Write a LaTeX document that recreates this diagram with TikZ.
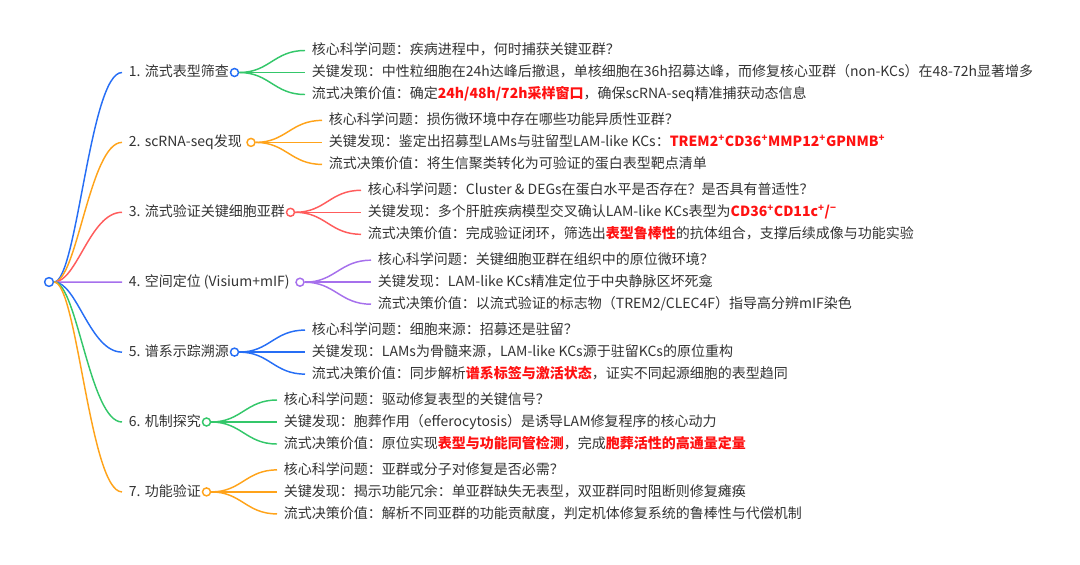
\documentclass[tikz,border=0pt]{standalone}
\usepackage{fontspec}
\setmainfont{Noto Sans CJK SC}
\definecolor{mblue}{RGB}{38,110,245}
\definecolor{morange}{RGB}{255,163,26}
\definecolor{mred}{RGB}{255,92,92}
\definecolor{mpurple}{RGB}{166,112,236}
\definecolor{mgreen}{RGB}{52,199,106}
\definecolor{txt}{RGB}{51,51,51}
\definecolor{hot}{RGB}{255,17,17}
\newcommand{\hl}[1]{\textcolor{hot}{\bfseries #1}}
\newcommand{\pos}{\textsuperscript{+}}
\begin{document}
\begin{tikzpicture}[x=0.75pt,y=-0.75pt,
  topic/.style={anchor=west,inner xsep=5pt,inner ysep=1pt,text=txt,
    font=\fontsize{10.5}{13}\selectfont,text height=0.83em,text depth=0.17em},
  dot/.style={circle,draw,fill=white,line width=1.1pt,minimum size=6pt,inner sep=0pt},
  link/.style={line width=1.1pt}]
  \useasboundingbox (0,0) rectangle (1080,564);
  \node[dot,draw=mblue,minimum size=6.6pt] (root) at (49,282) {};
  % 1
  \node[topic] (b1) at (122,72.5) {1. 流式表型筛查};
  \node[dot,draw=mblue] (c1) at (234.5,72.5) {};
  \node[topic] (l11) at (305,50.5) {核心科学问题：疾病进程中，何时捕获关键亚群？};
  \node[topic] (l12) at (305,72.5) {关键发现：中性粒细胞在24h达峰后撤退，单核细胞在36h招募达峰，而修复核心亚群（non-KCs）在48-72h显著增多};
  \node[topic] (l13) at (305,94.5) {流式决策价值：确定\hl{24h/48h/72h采样窗口}，确保scRNA-seq精准捕获动态信息};
  % 2
  \node[topic] (b2) at (122,142.4) {2. scRNA-seq发现};
  \node[dot,draw=morange] (c2) at (251,142.4) {};
  \node[topic] (l21) at (322,120.4) {核心科学问题：损伤微环境中存在哪些功能异质性亚群？};
  \node[topic] (l22) at (322,142.4) {关键发现：鉴定出招募型LAMs与驻留型LAM-like KCs：\hl{TREM2\pos CD36\pos MMP12\pos GPNMB\pos}};
  \node[topic] (l23) at (322,164.4) {流式决策价值：将生信聚类转化为可验证的蛋白表型靶点清单};
  % 3
  \node[topic] (b3) at (122,212.3) {3. 流式验证关键细胞亚群};
  \node[dot,draw=mred] (c3) at (290.5,212.3) {};
  \node[topic] (l31) at (361,190.3) {核心科学问题：Cluster \& DEGs在蛋白水平是否存在？是否具有普适性？};
  \node[topic] (l32) at (361,212.3) {关键发现：多个肝脏疾病模型交叉确认LAM-like KCs表型为\hl{CD36\pos CD11c\pos/\textsuperscript{−}}};
  \node[topic] (l33) at (361,234.3) {流式决策价值：完成验证闭环，筛选出\hl{表型鲁棒性}的抗体组合，支撑后续成像与功能实验};
  % 4
  \node[topic] (b4) at (122,282.2) {4. 空间定位 (Visium+mIF)};
  \node[dot,draw=mpurple] (c4) at (300,282.2) {};
  \node[topic] (l41) at (371,260.2) {核心科学问题：关键细胞亚群在组织中的原位微环境？};
  \node[topic] (l42) at (371,282.2) {关键发现：LAM-like KCs精准定位于中央静脉区坏死龛};
  \node[topic] (l43) at (371,304.2) {流式决策价值：以流式验证的标志物（TREM2/CLEC4F）指导高分辨mIF染色};
  % 5
  \node[topic] (b5) at (122,352.1) {5. 谱系示踪溯源};
  \node[dot,draw=mblue] (c5) at (234.5,352.1) {};
  \node[topic] (l51) at (305,330.1) {核心科学问题：细胞来源：招募还是驻留？};
  \node[topic] (l52) at (305,352.1) {关键发现：LAMs为骨髓来源，LAM-like KCs源于驻留KCs的原位重构};
  \node[topic] (l53) at (305,374.1) {流式决策价值：同步解析\hl{谱系标签与激活状态}，证实不同起源细胞的表型趋同};
  % 6
  \node[topic] (b6) at (122,422) {6. 机制探究};
  \node[dot,draw=mgreen] (c6) at (206.5,422) {};
  \node[topic] (l61) at (277,400) {核心科学问题：驱动修复表型的关键信号？};
  \node[topic] (l62) at (277,422) {关键发现：胞葬作用（efferocytosis）是诱导LAM修复程序的核心动力};
  \node[topic] (l63) at (277,444) {流式决策价值：原位实现\hl{表型与功能同管检测}，完成\hl{胞葬活性的高通量定量}};
  % 7
  \node[topic] (b7) at (122,491.9) {7. 功能验证};
  \node[dot,draw=morange] (c7) at (206.5,491.9) {};
  \node[topic] (l71) at (277,469.9) {核心科学问题：亚群或分子对修复是否必需？};
  \node[topic] (l72) at (277,491.9) {关键发现：揭示功能冗余：单亚群缺失无表型，双亚群同时阻断则修复瘫痪};
  \node[topic] (l73) at (277,513.9) {流式决策价值：解析不同亚群的功能贡献度，判定机体修复系统的鲁棒性与代偿机制};
  % root to topics
  \draw[link,mblue] (root) .. controls +(28,0) and +(-32,0) .. (b1.west);
  \draw[link,morange] (root) .. controls +(28,0) and +(-32,0) .. (b2.west);
  \draw[link,mred] (root) .. controls +(28,0) and +(-32,0) .. (b3.west);
  \draw[link,mpurple] (root) -- (b4.west);
  \draw[link,mblue] (root) .. controls +(28,0) and +(-32,0) .. (b5.west);
  \draw[link,mgreen] (root) .. controls +(28,0) and +(-32,0) .. (b6.west);
  \draw[link,morange] (root) .. controls +(28,0) and +(-32,0) .. (b7.west);
  % topics to leaves
  \draw[link,mgreen] (c1) .. controls +(35,0) and +(-31,0) .. (l11.west);
  \draw[link,mgreen] (c1) -- (l12.west);
  \draw[link,mgreen] (c1) .. controls +(35,0) and +(-31,0) .. (l13.west);
  \draw[link,morange] (c2) .. controls +(35,0) and +(-31,0) .. (l21.west);
  \draw[link,morange] (c2) -- (l22.west);
  \draw[link,morange] (c2) .. controls +(35,0) and +(-31,0) .. (l23.west);
  \draw[link,mred] (c3) .. controls +(35,0) and +(-31,0) .. (l31.west);
  \draw[link,mred] (c3) -- (l32.west);
  \draw[link,mred] (c3) .. controls +(35,0) and +(-31,0) .. (l33.west);
  \draw[link,mpurple] (c4) .. controls +(35,0) and +(-31,0) .. (l41.west);
  \draw[link,mpurple] (c4) -- (l42.west);
  \draw[link,mpurple] (c4) .. controls +(35,0) and +(-31,0) .. (l43.west);
  \draw[link,mblue] (c5) .. controls +(35,0) and +(-31,0) .. (l51.west);
  \draw[link,mblue] (c5) -- (l52.west);
  \draw[link,mblue] (c5) .. controls +(35,0) and +(-31,0) .. (l53.west);
  \draw[link,mgreen] (c6) .. controls +(35,0) and +(-31,0) .. (l61.west);
  \draw[link,mgreen] (c6) -- (l62.west);
  \draw[link,mgreen] (c6) .. controls +(35,0) and +(-31,0) .. (l63.west);
  \draw[link,morange] (c7) .. controls +(35,0) and +(-31,0) .. (l71.west);
  \draw[link,morange] (c7) -- (l72.west);
  \draw[link,morange] (c7) .. controls +(35,0) and +(-31,0) .. (l73.west);
\end{tikzpicture}
\end{document}
